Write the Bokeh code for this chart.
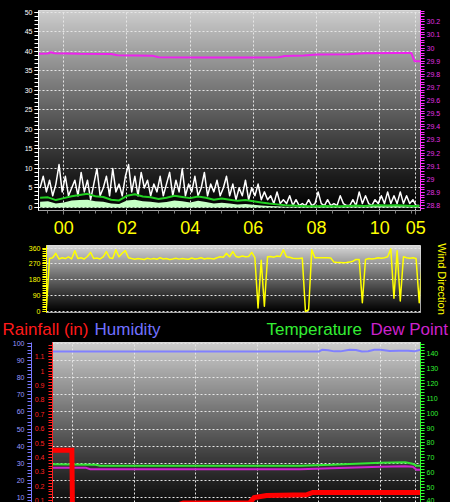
import numpy as np
from bokeh.plotting import figure
from bokeh.layouts import column
from bokeh.models import (Range1d, LinearAxis, FixedTicker, SingleIntervalTicker,
                          NumeralTickFormatter, Grid, GlobalInlineStyleSheet, ColumnDataSource)
from bokeh.core.properties import value
from bokeh.embed import file_html
from bokeh.resources import INLINE

# ---------------- data ----------------
hour_ticks = [0, 2, 4, 6, 8, 10, 11.14]
hour_labels = ["00", "02", "04", "06", "08", "10", "05"]

# wind gust (mph), one reading every 0.1 h starting at -0.75 h
gust_t0, gust_dt = -0.75, 0.1
gust_mph = [5, 8, 4, 7, 3, 6, 11, 4, 8, 3,
            5, 7, 3, 9, 4, 7, 2, 6, 10, 3,
            5, 8, 3, 10, 4, 6, 3, 8, 11, 4,
            8, 3, 9, 5, 7, 3, 6, 4, 8, 3,
            6, 9, 3, 7, 4, 10, 3, 6, 4, 8,
            3, 5, 9, 3, 6, 4, 7, 3, 5, 8,
            3, 6, 2, 5, 3, 7, 2, 5, 3, 6,
            2, 4, 2, 3, 1, 4, 1, 2, 1, 3,
            0.5, 2, 0.5, 1, 0.5, 2, 0.5, 1, 4, 1,
            0.5, 2, 0.5, 1, 0.5, 3, 1, 0.5, 0.5, 2,
            0.5, 4, 1, 3, 1, 0.5, 2, 1, 3, 1,
            4, 1, 3, 1, 4, 1, 3, 1, 2, 0.5, 0.5]

# average wind speed and lull (mph), one reading every 0.25 h starting at -0.75 h
avg_t0, avg_dt = -0.75, 0.25
avg_mph = [2.5, 2.6, 1.9, 2.4, 2.9, 3.2, 3.5, 2.9, 2.7, 2.0,
           1.8, 3.0, 3.4, 2.8, 2.6, 2.2, 2.5, 3.0, 2.7, 2.4,
           2.8, 2.5, 2.0, 2.3, 2.0, 1.7, 1.9, 1.6, 1.3, 1.0,
           0.8, 0.6, 0.5, 0.4, 0.3, 0.3, 0.4, 0.3, 0.3, 0.4,
           0.5, 0.4, 0.5, 0.6, 0.5, 0.6, 0.5, 0.4, 0.4]
lull_mph = [1.5, 1.6, 1.0, 1.3, 1.8, 1.9, 2.0, 1.6, 1.5, 1.0,
            0.9, 1.8, 2.0, 1.6, 1.5, 1.2, 1.4, 1.8, 1.6, 1.3,
            1.7, 1.4, 1.0, 1.2, 1.0, 0.8, 0.9, 0.7, 0.5, 0.4,
            0.3, 0.2, 0.2, 0.2, 0.2, 0.2, 0.3, 0.2, 0.2, 0.3,
            0.3, 0.2, 0.4, 0.4, 0.3, 0.4, 0.3, 0.2, 0.2]

# barometer (inHg)
baro_hours = [-0.8, -0.5, -0.4, -0.3, 0.5, 1.5, 1.7, 2.8, 3.0, 4.5, 6.0, 6.8,
              7.0, 7.6, 8.0, 9.0, 9.5, 10.5, 11.0, 11.1, 11.3]
baro_inhg = [29.957, 29.958, 29.968, 29.960, 29.957, 29.955, 29.945, 29.942,
             29.930, 29.928, 29.928, 29.930, 29.940, 29.944, 29.950, 29.952,
             29.960, 29.962, 29.962, 29.900, 29.900]

# wind direction (deg), one reading every 0.1 h starting at -0.55 h
dir_t0, dir_dt = -0.55, 0.1
dir_deg = [10, 300, 305, 330, 298, 305, 300, 310, 298, 345,
           300, 305, 298, 312, 335, 300, 303, 298, 310, 340,
           305, 300, 350, 310, 330, 345, 305, 300, 296, 300,
           298, 295, 302, 297, 300, 296, 305, 298, 300, 295,
           298, 302, 297, 300, 298, 296, 303, 298, 300, 305,
           298, 302, 300, 298, 305, 310, 308, 330, 310, 340,
           312, 308, 315, 310, 312, 335, 305, 20, 290, 30,
           310, 312, 308, 315, 312, 350, 310, 308, 302, 300,
           300, 303, 0, 10, 350, 305, 305, 305, 305, 305,
           303, 280, 278, 278, 277, 278, 280, 285, 295, 295,
           50, 295, 300, 298, 300, 305, 302, 305, 310, 355,
           75, 345, 60, 310, 305, 302, 305, 300, 50, 300]

# humidity (%)
hum_hours = [-0.65, 8.0, 8.1, 8.3, 8.5, 8.7, 9.0, 9.2, 9.4, 9.6, 9.8, 10.0,
             10.3, 10.6, 10.9, 11.1, 11.3]
hum_pct = [95.3, 95.3, 96.3, 96.0, 95.4, 95.4, 96.4, 96.2, 95.3, 95.5, 96.3,
           96.4, 95.6, 95.8, 95.7, 95.4, 96.3]

# rainfall (in)
rain_hours = [-0.65, -0.02, 0.0, 2.6, 3.3, 3.6, 5.75, 5.9, 6.3, 7.6, 7.8, 11.3]
rain_in = [0.45, 0.45, 0.0, 0.0, 0.06, 0.083, 0.083, 0.12, 0.135, 0.14, 0.156, 0.156]

# temperature and dew point (F)
temp_hours = [-0.65, 0.75, 0.9, 7.4, 8.4, 10.0, 10.8, 11.05, 11.17, 11.3]
temp_f = [65.7, 65.4, 64.7, 64.7, 65.4, 66.7, 67.0, 66.0, 64.7, 64.7]
dew_hours = [-0.65, 0.42, 0.58, 7.4, 8.4, 10.0, 10.8, 11.05, 11.17, 11.3]
dew_f = [63.4, 63.4, 62.3, 62.3, 63.0, 64.0, 64.4, 64.0, 62.0, 62.0]

# series titles of the lower panel
title_words = ["Rainfall (in)", "Humidity", "Temperature", "Dew Point"]
title_colors = ["#ff1a1a", "#7070ff", "#33ee33", "#cc22cc"]

# ---------------- helpers ----------------
FONT = "Liberation Sans"
GRID_COLOR = "#e6e6e6"


def base_fig(h, xr, yr, bl, bt, bb, br=30):
    p = figure(width=450, height=h, x_range=xr, y_range=yr,
               output_backend="svg", toolbar_location=None, title_location=None,
               x_axis_location=None, y_axis_location=None,
               min_border_left=bl, min_border_right=br,
               min_border_top=bt, min_border_bottom=bb,
               background_fill_color="black", border_fill_color="black",
               outline_line_color="#dcdcdc", outline_line_width=1)
    p.frame_align = False
    p.xgrid.visible = False
    p.ygrid.visible = False
    return p


def add_gradient(p, top_gray, bottom_gray, n=200, power=1.0):
    xs, xe = p.x_range.start, p.x_range.end
    ys, ye = p.y_range.start, p.y_range.end
    f = np.linspace(0.0, 1.0, n)
    g = np.round(bottom_gray + (top_gray - bottom_gray) * f ** power).astype(np.uint8)
    img = np.zeros((n, 1), dtype=np.uint32)
    v = img.view(dtype=np.uint8).reshape((n, 1, 4))
    v[:, 0, 0] = g
    v[:, 0, 1] = g
    v[:, 0, 2] = g
    v[:, 0, 3] = 255
    p.image_rgba(image=[img], x=xs, y=ys, dw=xe - xs, dh=ye - ys, level="image")


def add_grid(p, dim, ticker):
    p.add_layout(Grid(dimension=dim, ticker=ticker, grid_line_color=GRID_COLOR,
                      grid_line_dash="2 2", grid_line_width=1))


def style_axis(ax, color, label_color=None, tick_out=4, standoff=2, size="7px"):
    ax.axis_line_color = color
    ax.major_tick_line_color = color
    ax.minor_tick_line_color = color
    ax.major_tick_out = tick_out
    ax.major_tick_in = 0
    ax.minor_tick_out = tick_out
    ax.minor_tick_in = 0
    ax.major_label_text_color = label_color or color
    ax.major_label_text_font = FONT
    ax.major_label_text_font_size = size
    ax.major_label_standoff = standoff


def series_hours(t0, dt, n):
    return [t0 + dt * i for i in range(n)]


half_hours = [h / 2 for h in range(-1, 23)]

# ---------------- panel 1 : wind speed / barometer ----------------
p1 = base_fig(242, Range1d(-0.80, 11.29), Range1d(-0.77, 50.5), bl=38, bt=10, bb=32)
p1.extra_y_ranges = {"baro": Range1d(28.762, 30.286)}
add_gradient(p1, 205, 0, power=1.1)
add_grid(p1, 1, SingleIntervalTicker(interval=5))
add_grid(p1, 0, FixedTicker(ticks=hour_ticks))

ax = LinearAxis(ticker=SingleIntervalTicker(interval=5, num_minor_ticks=5))
style_axis(ax, "#ffffff")
p1.add_layout(ax, "left")

ax = LinearAxis(y_range_name="baro",
                ticker=SingleIntervalTicker(interval=0.1, num_minor_ticks=5),
                formatter=NumeralTickFormatter(format="0.[0]"))
style_axis(ax, "#ff33ff", label_color="#e030e0")
p1.add_layout(ax, "right")

ax = LinearAxis(ticker=FixedTicker(ticks=hour_ticks, minor_ticks=half_hours))
style_axis(ax, "#808080", label_color="#ffff00", tick_out=4, standoff=6, size="18px")
ax.axis_line_color = None
ax.minor_tick_out = 3
ax.major_label_overrides = dict(zip(hour_ticks, hour_labels))
p1.add_layout(ax, "below")

avg_hours = series_hours(avg_t0, avg_dt, len(avg_mph))
p1.varea(x=avg_hours, y1=[0] * len(lull_mph), y2=lull_mph, fill_color="#c4ffc4")
p1.line(series_hours(gust_t0, gust_dt, len(gust_mph)), gust_mph,
        line_color="white", line_width=1.5, line_join="round")
p1.line(avg_hours, avg_mph, line_color="#22d022", line_width=2, line_join="round")
p1.line(baro_hours, baro_inhg, y_range_name="baro", line_color="#ee22ee", line_width=2)

# ---------------- panel 2 : wind direction ----------------
p2 = base_fig(74, Range1d(-0.544, 11.29), Range1d(-5.7, 374.2), bl=46, bt=3, bb=4)
add_gradient(p2, 215, 0, power=1.1)
add_grid(p2, 1, FixedTicker(ticks=[0, 90, 180, 270, 360]))
ax = LinearAxis(ticker=FixedTicker(ticks=[0, 90, 180, 270, 360],
                                   minor_ticks=list(range(0, 361, 10))))
style_axis(ax, "#ffff00")
p2.add_layout(ax, "left")

# right side: the rotated "Wind Direction" caption, as an axis label
ax = LinearAxis(ticker=FixedTicker(ticks=[]), axis_label="Wind Direction")
ax.axis_line_color = None
ax.major_tick_line_color = None
ax.minor_tick_line_color = None
ax.major_tick_out = 0
ax.minor_tick_out = 0
ax.major_label_standoff = 0
ax.axis_label_standoff = 15
ax.axis_label_text_color = "#ffff00"
ax.axis_label_text_font = FONT
ax.axis_label_text_font_style = "normal"
ax.axis_label_text_font_size = "11px"
p2.add_layout(ax, "right")

p2.line(series_hours(dir_t0, dir_dt, len(dir_deg)), dir_deg,
        line_color="#ffff00", line_width=1.5, line_join="round")

# ---------------- title strip above panel 3 ----------------
ps = figure(width=450, height=24, x_range=Range1d(0, 450), y_range=Range1d(0, 24),
            output_backend="svg", toolbar_location=None, title_location=None,
            x_axis_location=None, y_axis_location=None,
            min_border_left=0, min_border_right=0, min_border_top=0, min_border_bottom=0,
            background_fill_color="black", border_fill_color="black",
            outline_line_color=None)
ps.frame_align = False
ps.xgrid.visible = False
ps.ygrid.visible = False
strip_src = ColumnDataSource(dict(
    x=[2, 94, 266, 370], y=[11, 11, 11, 11], text=title_words, color=title_colors))
ps.text(x="x", y="y", text="text", text_color="color", text_font_size=value("17px"),
        text_font=value(FONT), text_baseline="middle", source=strip_src)

# ---------------- panel 3 : rain / humidity / temperature ----------------
p3 = base_fig(162, Range1d(-0.649, 11.3), Range1d(7.07, 100.58), bl=52, bt=2, bb=0)
p3.extra_y_ranges = {"rain": Range1d(0.0863, 1.1997), "temp": Range1d(40.0, 147.4)}
add_gradient(p3, 205, 14, power=1.1)
add_grid(p3, 1, SingleIntervalTicker(interval=10))
add_grid(p3, 0, FixedTicker(ticks=hour_ticks))

ax = LinearAxis(y_range_name="rain",
                ticker=FixedTicker(ticks=[round(0.1 * k, 1) for k in range(0, 13)],
                                   minor_ticks=[round(0.02 * k, 2) for k in range(0, 61)]),
                formatter=NumeralTickFormatter(format="0.[0]"))
style_axis(ax, "#ff2020", standoff=4)
p3.add_layout(ax, "left")

ax = LinearAxis(ticker=SingleIntervalTicker(interval=10, num_minor_ticks=5))
style_axis(ax, "#7878ff", label_color="#9a9aff", standoff=3)
p3.add_layout(ax, "left")

ax = LinearAxis(y_range_name="temp", ticker=SingleIntervalTicker(interval=10, num_minor_ticks=5))
style_axis(ax, "#30ff30", label_color="#33ee33")
p3.add_layout(ax, "right")

p3.line(hum_hours, hum_pct, line_color="#8080ff", line_width=2)
p3.line(temp_hours, temp_f, y_range_name="temp", line_color="#33e633", line_width=2)
p3.line(dew_hours, dew_f, y_range_name="temp", line_color="#d020d0", line_width=2)
p3.line(rain_hours, rain_in, y_range_name="rain", line_color="#ff0000", line_width=5,
        line_join="miter")

page = column(p1, p2, ps, p3, spacing=0,
              stylesheets=[GlobalInlineStyleSheet(
                  css="html, body { margin: 0 !important; padding: 0; background: #000; overflow: hidden; }")])

open("out.html", "w").write(file_html(page, INLINE))
